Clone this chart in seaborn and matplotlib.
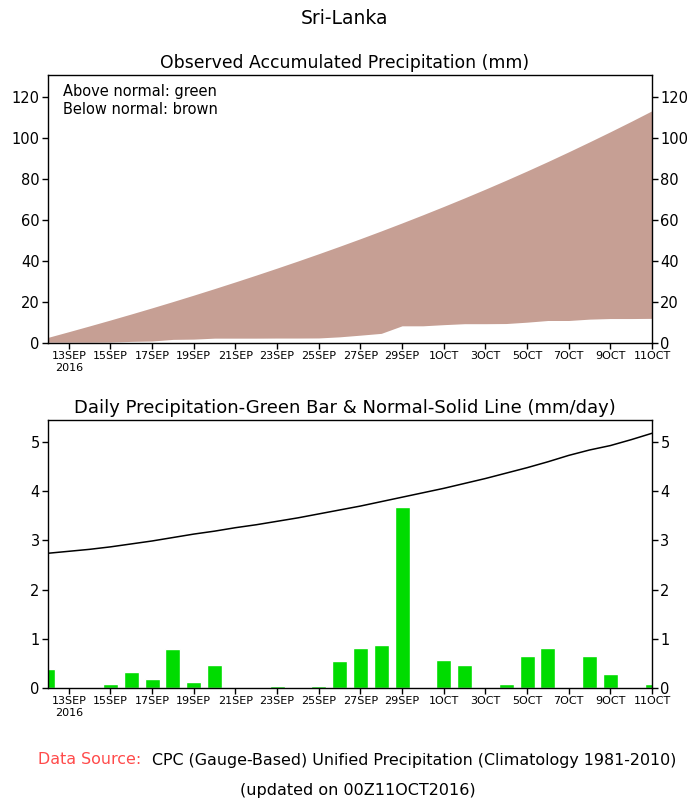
import numpy as np
import pandas as pd
import matplotlib
matplotlib.use("Agg")
import matplotlib.pyplot as plt
import seaborn as sns

# 12 Sep 2016 .. 11 Oct 2016
dates = pd.date_range("2016-09-12", "2016-10-11", freq="D")

daily_obs = [0.38, 0, 0, 0.08, 0.32, 0.19, 0.79, 0.13, 0.47, 0, 0, 0.05, 0, 0.05, 0.54,
             0.82, 0.87, 3.68, 0, 0.56, 0.47, 0, 0.08, 0.66, 0.82, 0, 0.66, 0.29, 0, 0.08]

daily_normal = [2.74, 2.78, 2.82, 2.87, 2.93, 2.99, 3.06, 3.13, 3.19, 3.26, 3.32, 3.39,
                3.46, 3.54, 3.62, 3.70, 3.79, 3.88, 3.97, 4.06, 4.16, 4.26, 4.37, 4.48,
                4.60, 4.73, 4.84, 4.93, 5.05, 5.18]

tick_labels = ["13SEP\n2016", "15SEP", "17SEP", "19SEP", "21SEP", "23SEP", "25SEP",
               "27SEP", "29SEP", "1OCT", "3OCT", "5OCT", "7OCT", "9OCT", "11OCT"]

top_yticks = [0, 20, 40, 60, 80, 100, 120]
bottom_yticks = [0, 1, 2, 3, 4, 5]

brown = "#C69F94"
green = "#00DC00"

day_idx = np.arange(len(dates))
acc_obs = np.cumsum(daily_obs)
acc_normal = np.cumsum(daily_normal)

sns.set_style("ticks")
plt.rcParams["font.family"] = ["DejaVu Sans"]
plt.rcParams["text.color"] = "black"
plt.rcParams["xtick.color"] = "black"
plt.rcParams["ytick.color"] = "black"

W, H = 689, 807
fig = plt.figure(figsize=(W / 100, H / 100), dpi=100)


def px_axes(left, top, right, bottom):
    return fig.add_axes([left / W, 1 - bottom / H, (right - left) / W, (bottom - top) / H])


def style_axis(ax, yticks, ylim):
    ax.set_xlim(0, len(dates) - 1)
    ax.set_ylim(*ylim)
    ax.set_xticks(day_idx[1::2])
    ax.set_xticklabels(tick_labels, fontsize=8)
    ax.set_yticks(yticks)
    ax.set_yticklabels([str(v) for v in yticks], fontsize=10.5)
    ax.tick_params(direction="out", length=4, width=1, right=True, labelright=True,
                   top=False, pad=2, colors="black")
    for s in ax.spines.values():
        s.set_visible(True)
        s.set_linewidth(1)
        s.set_color("black")
    ax.set_xlabel("")
    ax.set_ylabel("")


# Top panel: accumulated precipitation
ax1 = px_axes(48, 75, 652, 343)
ax1.fill_between(day_idx, acc_obs, acc_normal, where=acc_obs <= acc_normal,
                 color=brown, linewidth=0, interpolate=True)
ax1.fill_between(day_idx, acc_normal, acc_obs, where=acc_obs > acc_normal,
                 color=green, linewidth=0, interpolate=True)
style_axis(ax1, top_yticks, (0, 130.5))
ax1.text(0.025, 0.965, "Above normal: green\nBelow normal: brown", transform=ax1.transAxes,
         ha="left", va="top", fontsize=10.5, linespacing=1.25)

# Bottom panel: daily bars and normal line
ax2 = px_axes(48, 420, 652, 688)
sns.barplot(x=day_idx, y=daily_obs, native_scale=True, width=0.72, color=green,
            saturation=1, errorbar=None, ax=ax2)
sns.lineplot(x=day_idx, y=daily_normal, color="black", linewidth=1.1, ax=ax2)
style_axis(ax2, bottom_yticks, (0, 5.45))

fig.text(0.5, 1 - 18 / H, "Sri-Lanka", ha="center", va="center", fontsize=13.5)
fig.text(0.5, 1 - 63 / H, "Observed Accumulated Precipitation (mm)",
         ha="center", va="center", fontsize=12.4)
fig.text(0.5, 1 - 408 / H, "Daily Precipitation-Green Bar & Normal-Solid Line (mm/day)",
         ha="center", va="center", fontsize=13)
fig.text(38 / W, 1 - 760 / H, "Data Source:", color="#FF4A4A",
         ha="left", va="center", fontsize=11.4)
fig.text(152 / W, 1 - 760 / H,
         "CPC (Gauge-Based) Unified Precipitation (Climatology 1981-2010)",
         ha="left", va="center", fontsize=11.4)
fig.text(358 / W, 1 - 790 / H, "(updated on 00Z11OCT2016)",
         ha="center", va="center", fontsize=11.5)

fig.savefig("out.png", dpi=100)
